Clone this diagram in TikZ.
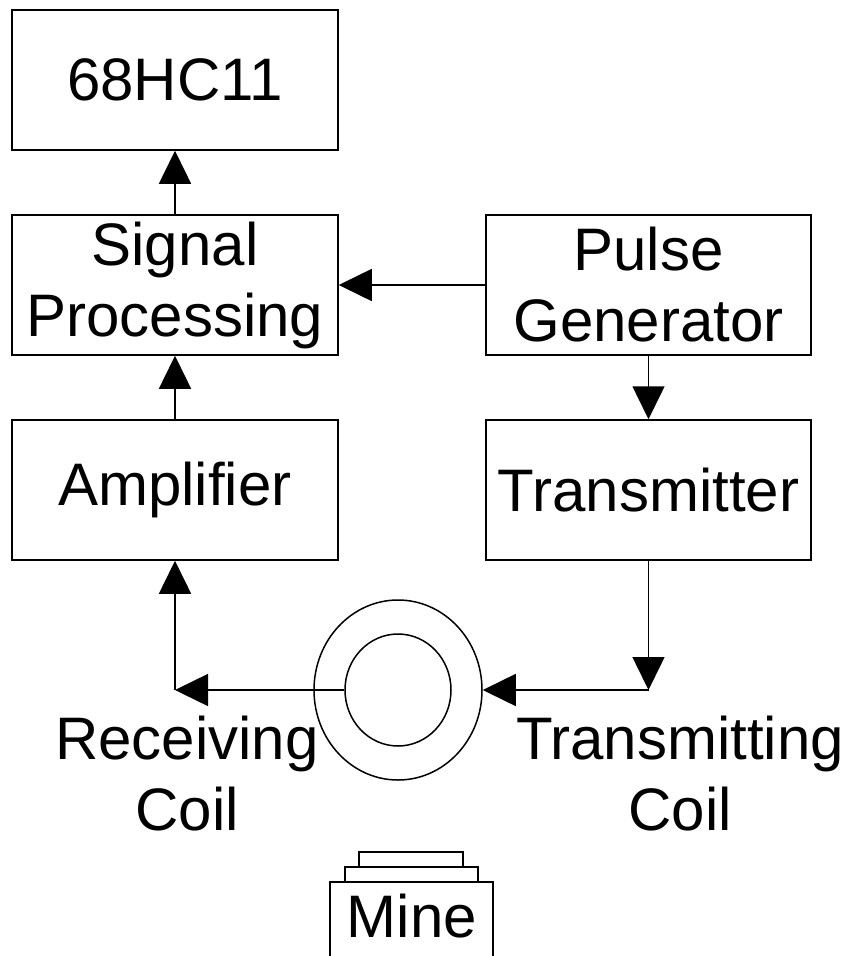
\documentclass[tikz,border=0pt]{standalone}
\usepackage{fontspec}
\setmainfont{Liberation Sans}
\usetikzlibrary{arrows.meta,shapes.geometric}
\begin{document}
\begin{tikzpicture}[x=1pt,y=-1pt,
  box/.style={draw,line width=1.5pt,minimum width=326pt,minimum height=140pt,inner sep=0pt,align=center,font=\fontsize{60}{71}\selectfont},
  lbl/.style={align=center,inner sep=0pt,font=\fontsize{60}{71}\selectfont},
  ring/.style={draw,ellipse,line width=1.5pt,inner sep=0pt},
  conn/.style={line width=1.5pt,-{Triangle[length=33pt,width=32pt]}},
  wire/.style={line width=1.5pt}]
\useasboundingbox (0,0) rectangle (852,956);
\node[box] (mcu) at (175,80) {68HC11};
\node[box] (sp) at (175,285) {Signal\\Processing};
\node[box] (amp) at (175,490) {Amplifier};
\node[box,minimum width=325pt] (pg) at (648.5,285) {Pulse\\Generator};
\node[box,minimum width=325pt] (tx) at (648.5,490) {Transmitter};
\node[ring,minimum width=168pt,minimum height=180pt] (outer) at (398,690) {};
\node[ring,minimum width=106pt,minimum height=112pt] (inner) at (398,690) {};
\coordinate (txc) at (648.5,690);
\coordinate (rxc) at (175,690);
\draw[conn] (tx.south) -- (txc);
\draw[conn] (txc) -- (outer.east);
\draw[conn] (inner.west) -- (rxc);
\draw[conn] (rxc) -- (amp.south);
\draw[conn] (amp.north) -- (sp.south);
\draw[conn] (sp.north) -- (mcu.south);
\draw[conn] (pg.west) -- (sp.east);
\draw[conn] (pg.south) -- (tx.north);
\node[lbl] (rxl) at (187,774) {Receiving\\Coil};
\node[lbl] (txl) at (680,774) {Transmitting\\Coil};
\draw[wire] (330,962) -- (330,882) -- (493,882) -- (493,962);
\draw[wire] (345,882) rectangle (478,867);
\draw[wire] (359,867) rectangle (463,852);
\node[lbl,anchor=base] (mine) at (412,937) {Mine};
\end{tikzpicture}
\end{document}
